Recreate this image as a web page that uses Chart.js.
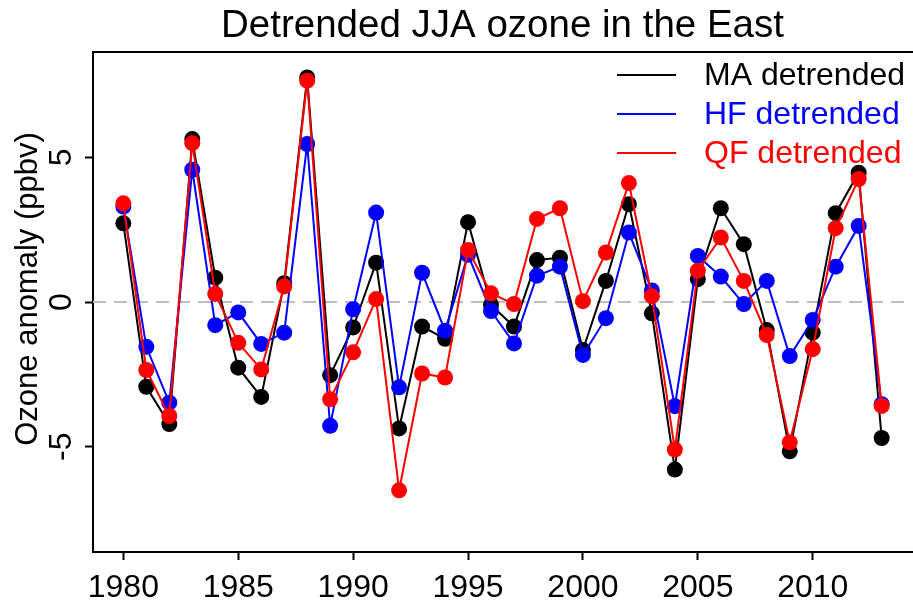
<!DOCTYPE html>
<html>
<head>
<meta charset="utf-8">
<script src="https://cdn.jsdelivr.net/npm/chart.js@4/dist/chart.umd.min.js"></script>
<style>
  html, body { margin: 0; padding: 0; background: #fff; overflow: hidden; }
  #wrap { width: 913px; height: 603px; overflow: hidden; }
</style>
</head>
<body>
<div id="wrap"><canvas id="ozone" width="920" height="603"></canvas></div>
<script>
// 資料
const years = [1980, 1981, 1982, 1983, 1984, 1985, 1986, 1987, 1988, 1989,
  1990, 1991, 1992, 1993, 1994, 1995, 1996, 1997, 1998, 1999,
  2000, 2001, 2002, 2003, 2004, 2005, 2006, 2007, 2008, 2009,
  2010, 2011, 2012, 2013];

const maDetrended = [2.72, -2.93, -4.22, 5.63, 0.84, -2.27, -3.28, 0.65, 7.76, -2.53,
  -0.88, 1.36, -4.37, -0.85, -1.27, 2.76, -0.10, -0.85, 1.45, 1.53,
  -1.66, 0.73, 3.38, -0.39, -5.79, 0.79, 3.24, 2.00, -0.97, -5.16,
  -1.06, 3.07, 4.47, -4.70];

const hfDetrended = [3.30, -1.55, -3.48, 4.57, -0.80, -0.36, -1.45, -1.06, 5.46, -4.28,
  -0.25, 3.09, -2.95, 1.01, -0.99, 1.63, -0.31, -1.43, 0.91, 1.22,
  -1.83, -0.56, 2.40, 0.40, -3.60, 1.59, 0.88, -0.07, 0.73, -1.87,
  -0.62, 1.22, 2.63, -3.53];

const qfDetrended = [3.41, -2.35, -3.94, 5.49, 0.28, -1.41, -2.33, 0.54, 7.65, -3.36,
  -1.74, 0.10, -6.51, -2.47, -2.61, 1.80, 0.30, -0.07, 2.87, 3.24,
  0.03, 1.71, 4.11, 0.20, -5.10, 1.08, 2.23, 0.73, -1.14, -4.85,
  -1.63, 2.55, 4.25, -3.59];

const seriesLabels = ['MA detrended', 'HF detrended', 'QF detrended'];
const seriesColors = ['#000000', '#0000ff', '#ff0000'];

const xTickYears = [1980, 1985, 1990, 1995, 2000, 2005, 2010];
const yTickValues = [-5, 0, 5];

const chartTitle = 'Detrended JJA ozone in the East';
const yAxisTitle = 'Ozone anomaly (ppbv)';

const FONT = "'Liberation Sans', Arial, sans-serif";

function toPoints(values) {
    return years.map((yr, i) => ({ x: yr, y: values[i] }));
}

function makeDataset(label, values, color, order) {
    return {
        label: label,
        data: toPoints(values),
        borderColor: color,
        backgroundColor: color,
        pointBackgroundColor: color,
        pointBorderColor: color,
        borderWidth: 2,
        pointRadius: 8,
        pointBorderWidth: 0,
        pointHoverRadius: 8,
        tension: 0,
        fill: false,
        order: order
    };
}

// 自訂繪製：標題、框線、零線、y 軸標籤、圖例
const decorPlugin = {
    id: 'decor',
    beforeDatasetsDraw(chart) {
        const { ctx, chartArea, scales } = chart;
        const y0 = scales.y.getPixelForValue(0);
        ctx.save();
        ctx.strokeStyle = '#bebebe';
        ctx.lineWidth = 2;
        ctx.setLineDash([13, 8]);
        ctx.beginPath();
        ctx.moveTo(chartArea.left, y0);
        ctx.lineTo(chartArea.right, y0);
        ctx.stroke();
        ctx.restore();
    },
    afterDraw(chart) {
        const { ctx, chartArea, scales } = chart;
        ctx.save();

        // 上框線
        ctx.strokeStyle = '#000';
        ctx.lineWidth = 2;
        ctx.beginPath();
        ctx.moveTo(chartArea.left - 1, chartArea.top);
        ctx.lineTo(chartArea.right + 2, chartArea.top);
        ctx.stroke();

        // 標題
        ctx.fillStyle = '#000';
        ctx.textAlign = 'center';
        ctx.textBaseline = 'alphabetic';
        ctx.font = '38.5px ' + FONT;
        ctx.fillText(chartTitle, (chartArea.left + chartArea.right) / 2, 37);

        // y 軸刻度標籤（旋轉）
        ctx.font = '32px ' + FONT;
        ctx.textBaseline = 'middle';
        yTickValues.forEach(v => {
            const py = scales.y.getPixelForValue(v);
            ctx.save();
            ctx.translate(62, py);
            ctx.rotate(-Math.PI / 2);
            ctx.fillText(String(v), 0, 0);
            ctx.restore();
        });

        // y 軸標題
        ctx.save();
        ctx.translate(28, 289);
        ctx.rotate(-Math.PI / 2);
        ctx.font = '31px ' + FONT;
        ctx.fillText(yAxisTitle, 0, 0);
        ctx.restore();

        // 圖例
        ctx.textAlign = 'left';
        ctx.font = '32px ' + FONT;
        seriesLabels.forEach((label, i) => {
            const ly = 75 + i * 39;
            ctx.strokeStyle = seriesColors[i];
            ctx.lineWidth = 2;
            ctx.beginPath();
            ctx.moveTo(617, ly);
            ctx.lineTo(676, ly);
            ctx.stroke();
            ctx.fillStyle = seriesColors[i];
            ctx.fillText(label, 704, ly + 1);
        });

        ctx.restore();
    }
};

const ctx = document.getElementById('ozone');

const ozoneChart = new Chart(ctx, {
    type: 'line',
    data: {
        datasets: [
            makeDataset(seriesLabels[0], maDetrended, seriesColors[0], 3),
            makeDataset(seriesLabels[1], hfDetrended, seriesColors[1], 2),
            makeDataset(seriesLabels[2], qfDetrended, seriesColors[2], 1)
        ]
    },
    options: {
        responsive: false,
        animation: false,
        layout: {
            padding: { top: 52, right: 1, left: 0, bottom: 0 }
        },
        plugins: {
            legend: { display: false },
            title: { display: false },
            tooltip: { enabled: false }
        },
        scales: {
            x: {
                type: 'linear',
                min: 1978.68,
                max: 2014.32,
                afterBuildTicks: (scale) => {
                    scale.ticks = xTickYears.map(v => ({ value: v }));
                },
                afterFit: (scale) => { scale.height = 51; },
                grid: {
                    display: true,
                    drawOnChartArea: false,
                    drawTicks: true,
                    tickLength: 8,
                    tickWidth: 2,
                    tickColor: '#000'
                },
                border: { display: true, color: '#000', width: 2 },
                ticks: {
                    color: '#000',
                    autoSkip: false,
                    maxRotation: 0,
                    padding: 9,
                    font: { family: FONT, size: 32 },
                    callback: (value) => String(value)
                }
            },
            y: {
                type: 'linear',
                min: -8.64,
                max: 8.64,
                afterBuildTicks: (scale) => {
                    scale.ticks = yTickValues.map(v => ({ value: v }));
                },
                afterFit: (scale) => { scale.width = 93; },
                grid: {
                    display: true,
                    drawOnChartArea: false,
                    drawTicks: true,
                    tickLength: 8,
                    tickWidth: 2,
                    tickColor: '#000'
                },
                border: { display: true, color: '#000', width: 2 },
                ticks: { display: false }
            }
        }
    },
    plugins: [decorPlugin]
});
</script>
</body>
</html>
